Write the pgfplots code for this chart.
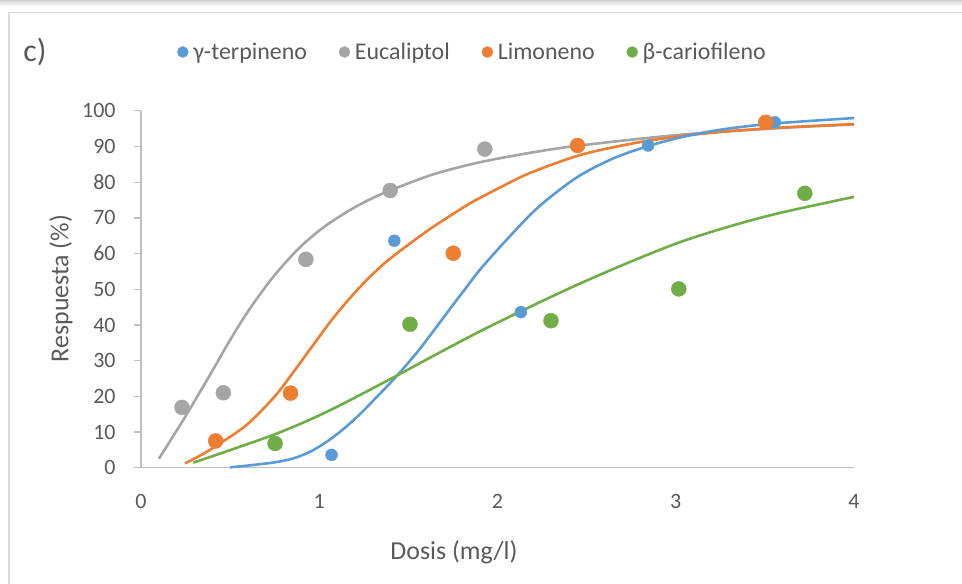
\documentclass[border=0pt]{standalone}
\usepackage{fontspec}
\setmainfont{Carlito}
\usepackage{pgfplots}
\pgfplotsset{compat=1.18}

\definecolor{cblue}{HTML}{5B9BD5}
\definecolor{cgray}{HTML}{A5A5A5}
\definecolor{corange}{HTML}{ED7D31}
\definecolor{cgreen}{HTML}{70AD47}
\definecolor{txt}{HTML}{595959}
\definecolor{axl}{HTML}{BFBFBF}

\begin{document}
\begin{tikzpicture}
\useasboundingbox (0,0) rectangle (962bp,584bp);
% frame of the original chart area
\shade[top color=black!18, bottom color=white] (0,578bp) rectangle (962bp,584bp);
\draw[black!15, line width=1.2bp] (9bp,0) -- (9bp,571.5bp) -- (962bp,571.5bp);
\node[font=\fontsize{32}{34}\selectfont, text=txt] at (35bp,532bp) {c)};

\begin{axis}[
  at={(141bp,116.3bp)}, anchor=origin,
  scale only axis, width=713bp, height=356.8bp,
  xmin=0, xmax=4, ymin=0, ymax=100,
  xtick={0,1,2,3,4}, ytick={0,10,...,100},
  axis lines=left, axis line style={axl, line width=1.2bp, -},
  tick align=outside,
  x tick style={draw=none}, y tick style={axl, line width=1.2bp},
  major tick length=7bp,
  tick label style={font=\fontsize{22}{25}\selectfont, text=txt},
  /pgf/number format/assume math mode=true,
  xticklabel style={yshift=-16bp},
  yticklabel style={xshift=-15bp},
  legend columns=-1,
  legend style={at={(0.465,1.165)}, anchor=center, draw=none, fill=none,
    font=\fontsize{24}{27}\selectfont, text=txt,
    /tikz/every even column/.append style={column sep=30bp}},
  legend image code/.code={\draw[#1, mark size=5.5bp] plot coordinates {(0bp,0bp)};
    \path[draw=none, fill=none] (-5.5bp,0bp) -- (8.5bp,0bp);},
  clip=false,
]
% fitted curves
\addplot[forget plot, smooth, cgray, line width=2.6bp] coordinates {
(0.10,2.5) (0.23,12.8) (0.387,26.0) (0.5,35.8) (0.611,44.6) (0.75,54.0)
(0.892,61.8) (1.03,67.6) (1.172,72.2) (1.28,75.1) (1.397,77.7) (1.639,82.2)
(1.9,85.6) (2.2,88.4) (2.462,90.3) (3.023,93.3) (3.584,95.2) (4.0,96.2)};
\addplot[forget plot, smooth, corange, line width=2.6bp] coordinates {
(0.247,1.2) (0.35,3.9) (0.443,6.8) (0.593,12.0) (0.742,19.5) (0.836,25.5)
(0.95,33.3) (1.079,42.0) (1.22,50.2) (1.359,57.0) (1.5,62.5) (1.639,67.5)
(1.826,73.5) (1.901,75.6) (2.013,78.5) (2.182,82.6) (2.462,87.6) (2.75,90.8)
(3.023,92.9) (3.3,94.3) (3.584,95.3) (4.0,96.3)};
\addplot[forget plot, smooth, cblue, line width=2.6bp] coordinates {
(0.499,0.1) (0.6,0.6) (0.75,1.5) (0.854,2.6) (0.95,4.5) (1.04,7.2)
(1.13,10.6) (1.228,15.0) (1.33,20.2) (1.44,26.0) (1.55,32.4) (1.639,38.2)
(1.75,45.6) (1.826,50.6) (1.9,55.4) (2.013,61.8) (2.182,70.8) (2.3,76.0)
(2.462,81.9) (2.65,86.7) (2.836,90.0) (3.02,92.5) (3.21,94.4) (3.4,95.7)
(3.584,96.6) (4.0,98.0)};
\addplot[forget plot, smooth, cgreen, line width=2.6bp] coordinates {
(0.293,1.4) (0.742,9.2) (1.04,15.6) (1.397,24.8) (1.639,31.3) (1.901,38.2)
(2.2,45.5) (2.462,51.6) (2.75,57.8) (3.023,63.2) (3.3,67.6) (3.584,71.4)
(4.0,75.9)};
% observed points
\addplot[only marks, mark=*, cblue, mark size=6bp, mark options={draw=none}] coordinates {
(1.069,3.6) (1.421,63.6) (2.131,43.6) (2.845,90.3) (3.556,96.8)};
\addlegendentry{γ-terpineno}
\addplot[only marks, mark=*, cgray, mark size=7.5bp, mark options={draw=none}] coordinates {
(0.230,16.9) (0.462,21.0) (0.925,58.4) (1.398,77.7) (1.929,89.3)};
\addlegendentry{Eucaliptol}
\addplot[only marks, mark=*, corange, mark size=7.5bp, mark options={draw=none}] coordinates {
(0.419,7.5) (0.839,20.9) (1.752,60.1) (2.449,90.3) (3.505,96.8)};
\addlegendentry{Limoneno}
\addplot[only marks, mark=*, cgreen, mark size=7.5bp, mark options={draw=none}] coordinates {
(0.752,6.8) (1.509,40.2) (2.300,41.2) (3.017,50.1) (3.724,76.9)};
\addlegendentry{β-cariofileno}
\end{axis}

\node[font=\fontsize{26}{29}\selectfont, text=txt] at (454bp,32bp) {Dosis (mg/l)};
\node[rotate=90, font=\fontsize{26}{29}\selectfont, text=txt] at (61bp,295.5bp) {Respuesta (\%)};
\end{tikzpicture}
\end{document}
